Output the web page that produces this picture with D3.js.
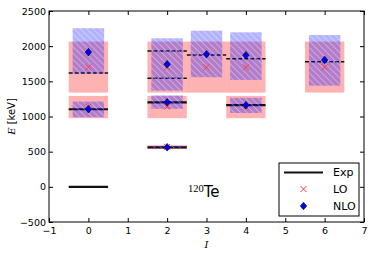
<!DOCTYPE html>
<html>
<head>
<meta charset="utf-8">
<script src="https://cdn.jsdelivr.net/npm/d3@7"></script>
<style>
	body { margin: 0; background: #fff; }
	svg { display: block; }
	text { font-family: "DejaVu Sans", sans-serif; }
</style>
</head>
<body>
<svg id="chart"></svg>
<script>
// data
const levelSpins = [0, 0, 2, 2, 2, 3, 4, 4, 6];
const loValues = [1700, 1140, 568, 1140, 1700, 1700, 1140, 1700, 1700];
const loLow = [1340, 976, 537, 976, 1340, 1340, 976, 1340, 1340];
const loHigh = [2065, 1293, 593, 1293, 2065, 2065, 1293, 2065, 2065];
const nloValues = [1915, 1104, 562, 1203, 1743, 1885, 1160, 1871, 1804];
const nloLow = [1610, 990, 553, 1110, 1368, 1558, 1050, 1520, 1439];
const nloHigh = [2255, 1212, 575, 1300, 2112, 2220, 1265, 2197, 2159];

const expSpins = [0, 0, 0, 2, 2, 2, 2, 3, 4, 4, 6];
const expEnergies = [0, 1103, 1620, 560, 1201, 1544, 1932, 1875, 1161, 1820, 1780];
const expYrast = [true, true, false, true, true, false, false, false, true, false, false];

const xTicks = [-1, 0, 1, 2, 3, 4, 5, 6, 7];
const yTicks = [-500, 0, 500, 1000, 1500, 2000, 2500];
const legendLabels = ["Exp", "LO", "NLO"];

const width = 374, height = 256;
const margin = { top: 11, right: 10, bottom: 34, left: 49 };

const svg = d3.select("#chart").attr("width", width).attr("height", height);

const x = d3.scaleLinear().domain([-1, 7]).range([margin.left, width - margin.right]);
const y = d3.scaleLinear().domain([-500, 2500]).range([height - margin.bottom, margin.top]);

// hatch for the NLO boxes
const defs = svg.append("defs");
const pat = defs.append("pattern")
	.attr("id", "hatch")
	.attr("patternUnits", "userSpaceOnUse")
	.attr("width", 4.5)
	.attr("height", 4.5)
	.attr("patternTransform", "rotate(-45)");
pat.append("rect").attr("width", 4.5).attr("height", 4.5).attr("fill", "rgba(0,0,255,0.3)");
pat.append("line")
	.attr("x1", 0.5).attr("y1", 0).attr("x2", 0.5).attr("y2", 4.5)
	.attr("stroke", "rgba(255,255,255,0.35)")
	.attr("stroke-width", 1);

const levels = levelSpins.map((s, i) => ({
	spin: s,
	lo: loValues[i], loLow: loLow[i], loHigh: loHigh[i],
	nlo: nloValues[i], nloLow: nloLow[i], nloHigh: nloHigh[i]
}));
const exp = expSpins.map((s, i) => ({ spin: s, e: expEnergies[i], yrast: expYrast[i] }));

const plot = svg.append("g");

// LO bands
plot.selectAll("rect.lo")
	.data(levels)
	.join("rect")
	.attr("class", "lo")
	.attr("x", (d) => x(d.spin - 0.5))
	.attr("width", x(0.5) - x(-0.5))
	.attr("y", (d) => y(d.loHigh))
	.attr("height", (d) => y(d.loLow) - y(d.loHigh))
	.attr("fill", "rgba(255,0,0,0.3)");

// experimental levels
plot.selectAll("line.exp")
	.data(exp)
	.join("line")
	.attr("class", "exp")
	.attr("x1", (d) => x(d.spin - 0.5))
	.attr("x2", (d) => x(d.spin + 0.5))
	.attr("y1", (d) => y(d.e))
	.attr("y2", (d) => y(d.e))
	.attr("stroke", "#111")
	.attr("stroke-width", (d) => (d.yrast ? 2.2 : 1.5))
	.attr("stroke-dasharray", (d) => (d.yrast ? null : "4,2"));

// NLO bands
plot.selectAll("rect.nlo")
	.data(levels)
	.join("rect")
	.attr("class", "nlo")
	.attr("x", (d) => x(d.spin - 0.4))
	.attr("width", x(0.4) - x(-0.4))
	.attr("y", (d) => y(d.nloHigh))
	.attr("height", (d) => y(d.nloLow) - y(d.nloHigh))
	.attr("fill", "url(#hatch)");

// LO markers
const crossPath = "M-3,-3L3,3M-3,3L3,-3";
const diamondPath = "M0,-3.8L3.2,0L0,3.8L-3.2,0Z";
plot.selectAll("path.lo")
	.data(levels)
	.join("path")
	.attr("class", "lo")
	.attr("d", crossPath)
	.attr("transform", (d) => `translate(${x(d.spin)},${y(d.lo)})`)
	.attr("fill", "none")
	.attr("stroke", "#ff3b3b")
	.attr("stroke-width", 1);

// NLO markers
plot.selectAll("path.nlo")
	.data(levels)
	.join("path")
	.attr("class", "nlo")
	.attr("d", diamondPath)
	.attr("transform", (d) => `translate(${x(d.spin)},${y(d.nlo)})`)
	.attr("fill", "#0000ff")
	.attr("stroke", "#000")
	.attr("stroke-width", 0.6);

// axes, ticks inward on all sides
const axisStyle = (g) => {
	g.select(".domain").remove();
	g.selectAll("line").attr("stroke", "#000");
	g.selectAll("text").style("font-family", "DejaVu Sans, sans-serif").style("font-size", "9.5px").attr("fill", "#000");
};
const fmt = (d) => d3.format("")(d).replace("-", "\u2212");

svg.append("g")
	.attr("transform", `translate(0,${y(-500)})`)
	.call(d3.axisBottom(x).tickValues(xTicks).tickFormat(fmt).tickSizeInner(-4).tickSizeOuter(0).tickPadding(5))
	.call(axisStyle);
svg.append("g")
	.attr("transform", `translate(0,${y(2500)})`)
	.call(d3.axisTop(x).tickValues(xTicks).tickFormat("").tickSizeInner(-4).tickSizeOuter(0))
	.call(axisStyle);
svg.append("g")
	.attr("transform", `translate(${x(-1)},0)`)
	.call(d3.axisLeft(y).tickValues(yTicks).tickFormat(fmt).tickSizeInner(-4).tickSizeOuter(0).tickPadding(3))
	.call(axisStyle);
svg.append("g")
	.attr("transform", `translate(${x(7)},0)`)
	.call(d3.axisRight(y).tickValues(yTicks).tickFormat("").tickSizeInner(-4).tickSizeOuter(0))
	.call(axisStyle);

// frame
svg.append("rect")
	.attr("x", x(-1))
	.attr("y", y(2500))
	.attr("width", x(7) - x(-1))
	.attr("height", y(-500) - y(2500))
	.attr("fill", "none")
	.attr("stroke", "#000")
	.attr("stroke-width", 1);

// axis labels
svg.append("text")
	.attr("transform", `translate(15,${(y(-500) + y(2500)) / 2}) rotate(-90)`)
	.attr("text-anchor", "middle")
	.style("font-size", "10px")
	.html('<tspan style="font-family: \'DejaVu Serif\', serif; font-style: italic">E</tspan> [keV]');

svg.append("text")
	.attr("x", (x(-1) + x(7)) / 2)
	.attr("y", 248)
	.attr("text-anchor", "middle")
	.style("font-family", "'DejaVu Serif', serif")
	.style("font-style", "italic")
	.style("font-size", "10px")
	.text("I");

// nucleus label
const nuc = svg.append("text").attr("x", x(2.53)).attr("y", 197);
nuc.append("tspan")
	.style("font-family", "'Liberation Serif', serif")
	.style("font-size", "10.5px")
	.attr("dy", -5)
	.text("120");
nuc.append("tspan")
	.style("font-size", "15px")
	.attr("dy", 5)
	.text("Te");

// legend
const lg = svg.append("g").attr("transform", "translate(279,163)");
lg.append("rect")
	.attr("width", 80)
	.attr("height", 53)
	.attr("fill", "#fff")
	.attr("stroke", "#000")
	.attr("stroke-width", 1);
const rowY = [9.5, 26, 43];
lg.append("line")
	.attr("x1", 5).attr("x2", 44)
	.attr("y1", rowY[0]).attr("y2", rowY[0])
	.attr("stroke", "#111").attr("stroke-width", 2);
lg.append("path")
	.attr("d", crossPath)
	.attr("transform", `translate(24.5,${rowY[1]})`)
	.attr("fill", "none").attr("stroke", "#ff3b3b").attr("stroke-width", 1);
lg.append("path")
	.attr("d", diamondPath)
	.attr("transform", `translate(24.5,${rowY[2]})`)
	.attr("fill", "#0000ff").attr("stroke", "#000").attr("stroke-width", 0.6);
lg.selectAll("text")
	.data(legendLabels)
	.join("text")
	.attr("x", 54)
	.attr("y", (d, i) => rowY[i])
	.attr("dy", "0.36em")
	.style("font-size", "11px")
	.text((d) => d);
</script>
</body>
</html>
